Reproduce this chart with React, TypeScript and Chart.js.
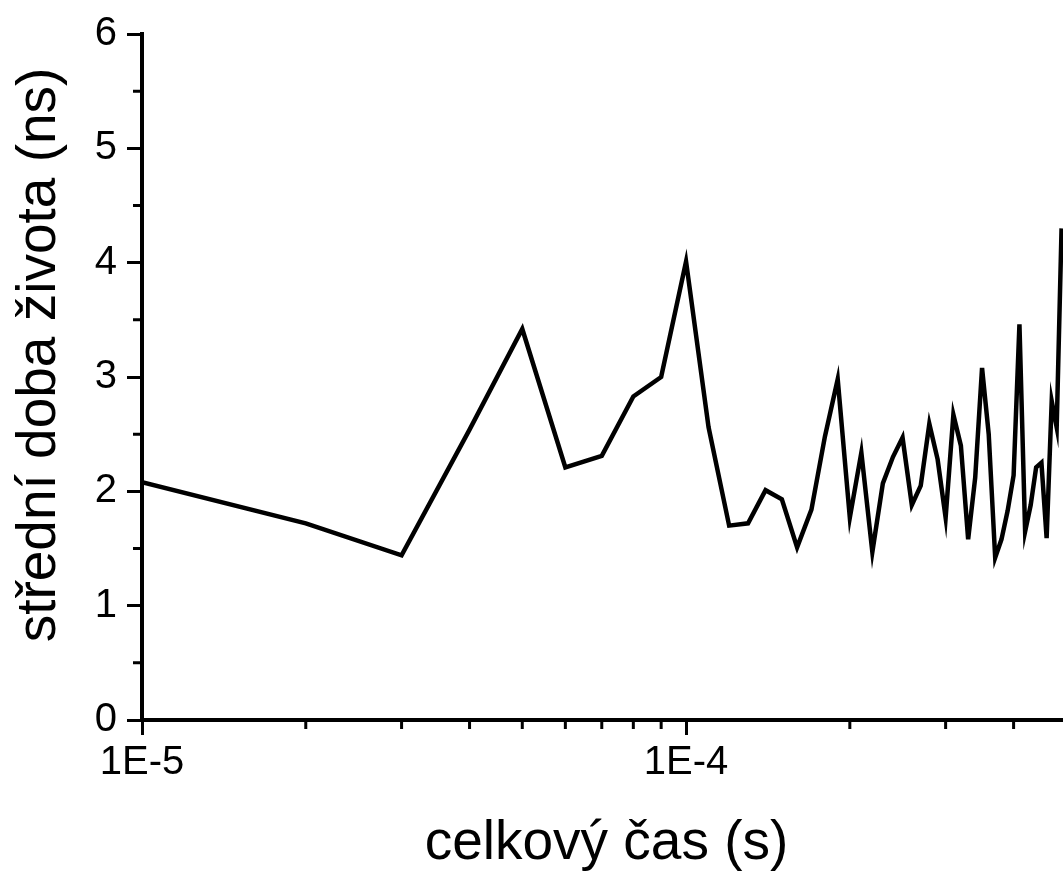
import React, { useEffect, useRef } from "react";
import { Chart, registerables } from "chart.js";

Chart.register(...registerables);

const FONT = '"Liberation Sans", Arial, sans-serif';

// total time (s)
const times = [
  1e-5, 2e-5, 3e-5, 4e-5, 5e-5, 6e-5, 7e-5, 8e-5, 9e-5, 1e-4,
  1.1e-4, 1.2e-4, 1.3e-4, 1.4e-4, 1.5e-4, 1.6e-4, 1.7e-4, 1.8e-4, 1.9e-4, 2.0e-4,
  2.1e-4, 2.2e-4, 2.3e-4, 2.4e-4, 2.5e-4, 2.6e-4, 2.7e-4, 2.8e-4, 2.9e-4, 3.0e-4,
  3.1e-4, 3.2e-4, 3.3e-4, 3.4e-4, 3.5e-4, 3.6e-4, 3.7e-4, 3.8e-4, 3.9e-4, 4.0e-4,
  4.1e-4, 4.2e-4, 4.3e-4, 4.4e-4, 4.5e-4, 4.6e-4, 4.7e-4, 4.8e-4, 4.9e-4,
];

// mean lifetime (ns)
const lifetimes = [
  2.08, 1.72, 1.44, 2.54, 3.42, 2.21, 2.31, 2.83, 3.0, 4.01,
  2.56, 1.7, 1.72, 2.01, 1.93, 1.51, 1.84, 2.48, 2.98, 1.77,
  2.34, 1.47, 2.07, 2.3, 2.47, 1.88, 2.05, 2.59, 2.28, 1.77,
  2.67, 2.4, 1.58, 2.12, 3.08, 2.5, 1.42, 1.58, 1.83, 2.14,
  3.46, 1.65, 1.88, 2.21, 2.25, 1.59, 2.79, 2.56, 4.3,
];

const xMajorTicks = [1e-5, 1e-4];
const xTickLabels = ["1E-5", "1E-4"];
const xMinorTicks = [2e-5, 3e-5, 4e-5, 5e-5, 6e-5, 7e-5, 8e-5, 9e-5, 2e-4, 3e-4, 4e-4];
const yMajorTicks = [0, 1, 2, 3, 4, 5, 6];
const yMinorTicks = [0.5, 1.5, 2.5, 3.5, 4.5, 5.5];

const xTitle = "celkový čas (s)";
const yTitle = "střední doba života (ns)";

const X_MIN = 1e-5;
const X_MAX = 4.93e-4;
const Y_MIN = 0;
const Y_MAX = 6;

const decorPlugin = {
  id: "decor",
  afterDraw(chart: any) {
    const ctx = chart.ctx as CanvasRenderingContext2D;
    const xs = chart.scales.x;
    const ys = chart.scales.y;
    const area = chart.chartArea;
    ctx.save();
    ctx.strokeStyle = "#000";
    ctx.lineWidth = 3;
    ctx.beginPath();
    for (const v of xMinorTicks) {
      const px = xs.getPixelForValue(v);
      if (px > area.right + 1) continue;
      ctx.moveTo(px, area.bottom);
      ctx.lineTo(px, area.bottom + 9);
    }
    for (const v of yMinorTicks) {
      const py = ys.getPixelForValue(v);
      ctx.moveTo(area.left - 9, py);
      ctx.lineTo(area.left, py);
    }
    ctx.stroke();

    ctx.fillStyle = "#000";
    ctx.font = `55px ${FONT}`;
    ctx.textAlign = "center";
    ctx.textBaseline = "alphabetic";
    ctx.fillText(xTitle, (area.left + area.right) / 2 + 4, chart.height - 15);
    ctx.translate(55, (area.top + area.bottom) / 2 - 22);
    ctx.rotate(-Math.PI / 2);
    ctx.fillText(yTitle, 0, 0);
    ctx.restore();
  },
};

export default function App() {
  const canvasRef = useRef<HTMLCanvasElement | null>(null);

  useEffect(() => {
    if (!canvasRef.current) return;
    const chart = new Chart(canvasRef.current, {
      type: "line",
      data: {
        datasets: [
          {
            data: times.map((t, i) => ({ x: t, y: lifetimes[i] })),
            borderColor: "#000",
            borderWidth: 4.5,
            pointRadius: 0,
            tension: 0,
            fill: false,
          },
        ],
      },
      options: {
        animation: false,
        responsive: true,
        maintainAspectRatio: false,
        layout: { padding: { top: 32, left: 0, right: 0, bottom: 0 } },
        plugins: {
          legend: { display: false },
          tooltip: { enabled: false },
        },
        scales: {
          x: {
            type: "logarithmic",
            min: X_MIN,
            max: X_MAX,
            afterBuildTicks: (scale: any) => {
              scale.ticks = xMajorTicks.map((v) => ({ value: v, major: true }));
            },
            afterFit: (scale: any) => {
              scale.height = 154;
            },
            grid: {
              drawOnChartArea: false,
              drawTicks: true,
              tickLength: 15,
              tickWidth: 3,
              tickColor: "#000",
            },
            border: { display: true, color: "#000", width: 4 },
            ticks: {
              autoSkip: false,
              maxRotation: 0,
              padding: 4,
              color: "#000",
              font: { family: FONT, size: 40 },
              callback: (_v: any, i: number) => xTickLabels[i],
            },
          },
          y: {
            type: "linear",
            min: Y_MIN,
            max: Y_MAX,
            afterBuildTicks: (scale: any) => {
              scale.ticks = yMajorTicks.map((v) => ({ value: v }));
            },
            afterFit: (scale: any) => {
              scale.width = 142;
            },
            grid: {
              drawOnChartArea: false,
              drawTicks: true,
              tickLength: 15,
              tickWidth: 3,
              tickColor: "#000",
            },
            border: { display: true, color: "#000", width: 4 },
            ticks: {
              padding: 10,
              color: "#000",
              font: { family: FONT, size: 40 },
              callback: (v: any) => String(v),
            },
          },
        },
      },
      plugins: [decorPlugin],
    });
    return () => chart.destroy();
  }, []);

  return (
    <div
      style={{
        position: "absolute",
        left: 0,
        top: 0,
        width: 1063,
        height: 874,
        background: "#fff",
      }}
    >
      <canvas ref={canvasRef} />
    </div>
  );
}
